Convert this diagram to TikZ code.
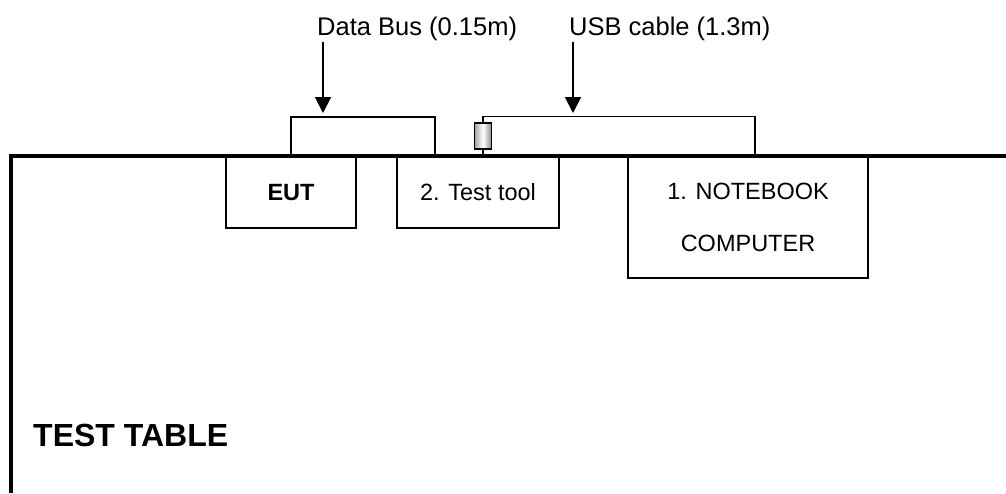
\documentclass[tikz,border=0pt]{standalone}
\usepackage{fontspec}
\setmainfont{Liberation Sans}
\usetikzlibrary{arrows.meta, shapes}

\tikzset{
	unit/.style={draw, line width=2pt, rectangle, anchor=north west, inner sep=0pt,
		font=\fontsize{23.5}{52}\selectfont, align=center},
	cable/.style={line width=1.5pt},
	pointer/.style={line width=2pt, -{Triangle[width=16pt,length=16pt]}},
	tag/.style={inner sep=2pt, anchor=base west, font=\fontsize{25.5}{30}\selectfont},
	plug/.style={draw, line width=1.5pt, rectangle, inner sep=0pt,
		minimum width=17pt, minimum height=26pt,
		left color=gray!70, right color=gray!90, middle color=white}
}

\begin{document}
\begin{tikzpicture}[x=1pt,y=-1pt]
	\useasboundingbox (0,0) rectangle (1006,493);
	\def\top{156}

	% the table
	\draw[line width=4pt] (1006,\top) -- (11,\top) -- (11,493);
	\node[anchor=base west, inner sep=0pt, font=\bfseries\fontsize{32}{36}\selectfont] (table) at (33,446) {TEST TABLE};

	% units standing on the table
	\node[unit, minimum width=130pt, minimum height=71pt, font=\bfseries\fontsize{23.5}{28}\selectfont] (eut) at (225,\top) {EUT};
	\node[unit, minimum width=162pt, minimum height=71pt] (tool) at (396,\top) {2. Test tool};
	\node[unit, minimum width=240pt, minimum height=121pt] (nb) at (627,\top) {1. NOTEBOOK\\COMPUTER};

	% cables
	\draw[cable] ([xshift=66pt]eut.north west) -- ++(0,-39) -| ([xshift=39pt]tool.north west);
	\node[plug] (usb) at (483,136) {};
	\draw[cable] ([xshift=87pt]tool.north west) -- (usb.south);
	\draw[cable] (usb.north) -- ++(0,-6) -| ([xshift=128pt]nb.north west);

	% labels
	\node[tag] (buslabel) at (315,35) {Data Bus (0.15m)};
	\node[tag] (usblabel) at (567,35) {USB cable (1.3m)};
	\coordinate (bustip) at (323,113);
	\coordinate (usbtip) at (573,113);
	\draw[pointer] (buslabel.south west -| bustip) -- (bustip);
	\draw[pointer] (usblabel.south west -| usbtip) -- (usbtip);
\end{tikzpicture}
\end{document}
